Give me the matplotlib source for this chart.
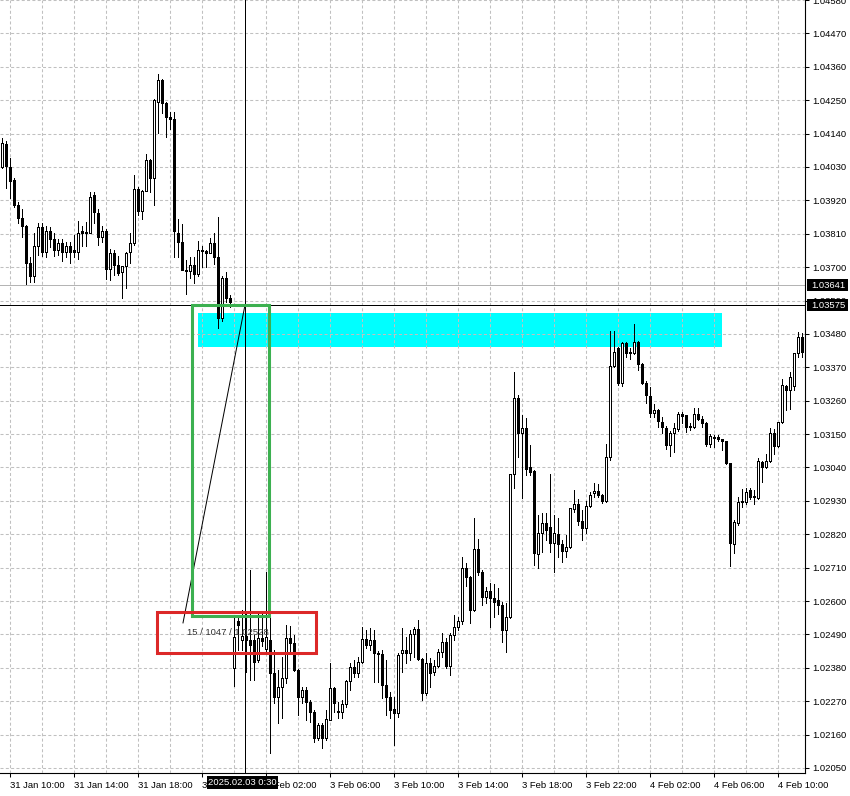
import matplotlib
matplotlib.use("Agg")
import matplotlib.pyplot as plt
from matplotlib.patches import Rectangle
import numpy as np

# 15 min bars, 31 Jan 09:30 .. 4 Feb 11:30, weekend gap removed like the terminal does
opens = [
    1.04030, 1.04107, 1.04030, 1.03986, 1.03905, 1.03862, 1.03836, 1.03714, 1.03672, 1.03771,
    1.03831, 1.03750, 1.03818, 1.03794, 1.03758, 1.03779, 1.03750, 1.03771, 1.03755, 1.03750,
    1.03818, 1.03817, 1.03813, 1.03936, 1.03878, 1.03800, 1.03818, 1.03693, 1.03748, 1.03706,
    1.03683, 1.03703, 1.03750, 1.03778, 1.03959, 1.03885, 1.03951, 1.04052, 1.03992, 1.04245,
    1.04316, 1.04241, 1.04195, 1.04189, 1.03814, 1.03783, 1.03692, 1.03688, 1.03706, 1.03679,
    1.03758, 1.03753, 1.03748, 1.03781, 1.03734, 1.03532, 1.03664, 1.03598, 1.02379, 1.02534,
    1.02472, 1.02485, 1.02472, 1.02470, 1.02406, 1.02478, 1.02442, 1.02472, 1.02363, 1.02284,
    1.02317, 1.02346, 1.02478, 1.02462, 1.02373, 1.02284, 1.02307, 1.02267, 1.02234, 1.02149,
    1.02192, 1.02149, 1.02208, 1.02313, 1.02238, 1.02234, 1.02261, 1.02337, 1.02383, 1.02363,
    1.02399, 1.02475, 1.02455, 1.02472, 1.02429, 1.02425, 1.02323, 1.02284, 1.02244, 1.02231,
    1.02429, 1.02439, 1.02429, 1.02491, 1.02508, 1.02409, 1.02297, 1.02396, 1.02366, 1.02386,
    1.02432, 1.02465, 1.02386, 1.02488, 1.02514, 1.02534, 1.02709, 1.02679, 1.02570, 1.02771,
    1.02695, 1.02613, 1.02633, 1.02610, 1.02603, 1.02587, 1.02504, 1.02547, 1.03018, 1.03268,
    1.03153, 1.03170, 1.03041, 1.03028, 1.02755, 1.02824, 1.02857, 1.02844, 1.02791, 1.02821,
    1.02788, 1.02765, 1.02778, 1.02903, 1.02919, 1.02863, 1.02840, 1.02913, 1.02956, 1.02962,
    1.02949, 1.02929, 1.03074, 1.03374, 1.03433, 1.03318, 1.03450, 1.03420, 1.03417, 1.03453,
    1.03380, 1.03318, 1.03275, 1.03219, 1.03229, 1.03190, 1.03170, 1.03114, 1.03153, 1.03167,
    1.03216, 1.03212, 1.03176, 1.03173, 1.03216, 1.03199, 1.03186, 1.03117, 1.03140, 1.03140,
    1.03134, 1.03127, 1.03054, 1.02788, 1.02857, 1.02929, 1.02926, 1.02965, 1.02945, 1.02939,
    1.03058, 1.03041, 1.03061, 1.03153, 1.03110, 1.03189, 1.03308, 1.03295, 1.03308, 1.03417,
    1.03469,
]
highs = [
    1.04124, 1.04115, 1.04061, 1.03992, 1.03915, 1.03892, 1.03840, 1.03734, 1.03813, 1.03844,
    1.03844, 1.03836, 1.03833, 1.03813, 1.03794, 1.03794, 1.03783, 1.03783, 1.03805, 1.03851,
    1.03836, 1.03848, 1.03946, 1.03946, 1.03891, 1.03836, 1.03824, 1.03759, 1.03756, 1.03736,
    1.03705, 1.03750, 1.03813, 1.04003, 1.03964, 1.03954, 1.04072, 1.04055, 1.04255, 1.04335,
    1.04319, 1.04245, 1.04211, 1.04211, 1.03857, 1.03841, 1.03725, 1.03734, 1.03734, 1.03786,
    1.03771, 1.03758, 1.03796, 1.03814, 1.03865, 1.03670, 1.03683, 1.03608, 1.02544, 1.02554,
    1.02570, 1.02564, 1.02702, 1.02488, 1.02564, 1.02564, 1.02695, 1.02560, 1.02439, 1.02373,
    1.02416, 1.02521, 1.02518, 1.02488, 1.02376, 1.02317, 1.02317, 1.02274, 1.02241, 1.02198,
    1.02198, 1.02241, 1.02396, 1.02317, 1.02267, 1.02274, 1.02340, 1.02396, 1.02406, 1.02416,
    1.02514, 1.02504, 1.02511, 1.02504, 1.02435, 1.02439, 1.02406, 1.02300, 1.02284, 1.02429,
    1.02511, 1.02481, 1.02504, 1.02514, 1.02537, 1.02412, 1.02429, 1.02412, 1.02406, 1.02442,
    1.02495, 1.02478, 1.02495, 1.02554, 1.02547, 1.02745, 1.02725, 1.02682, 1.02873, 1.02804,
    1.02702, 1.02646, 1.02659, 1.02656, 1.02643, 1.02597, 1.02593, 1.03018, 1.03354, 1.03278,
    1.03212, 1.03203, 1.03114, 1.03031, 1.02883, 1.02890, 1.02890, 1.03018, 1.02883, 1.02873,
    1.02801, 1.02817, 1.02906, 1.02965, 1.02935, 1.02900, 1.02929, 1.02959, 1.02989, 1.02986,
    1.02952, 1.03117, 1.03489, 1.03489, 1.03436, 1.03453, 1.03453, 1.03433, 1.03512, 1.03456,
    1.03383, 1.03324, 1.03305, 1.03249, 1.03232, 1.03206, 1.03176, 1.03160, 1.03186, 1.03222,
    1.03222, 1.03212, 1.03186, 1.03236, 1.03236, 1.03209, 1.03189, 1.03150, 1.03147, 1.03147,
    1.03134, 1.03127, 1.03054, 1.02867, 1.02942, 1.02969, 1.02972, 1.02972, 1.02965, 1.03071,
    1.03061, 1.03084, 1.03170, 1.03166, 1.03189, 1.03331, 1.03311, 1.03354, 1.03417, 1.03486,
    1.03483,
]
lows = [
    1.04025, 1.03961, 1.03929, 1.03898, 1.03846, 1.03800, 1.03646, 1.03651, 1.03651, 1.03739,
    1.03736, 1.03732, 1.03765, 1.03736, 1.03739, 1.03720, 1.03732, 1.03714, 1.03734, 1.03728,
    1.03770, 1.03770, 1.03812, 1.03846, 1.03772, 1.03783, 1.03660, 1.03657, 1.03673, 1.03673,
    1.03597, 1.03630, 1.03712, 1.03772, 1.03871, 1.03857, 1.03951, 1.03948, 1.03904, 1.04142,
    1.04208, 1.04129, 1.04156, 1.03734, 1.03734, 1.03690, 1.03613, 1.03663, 1.03649, 1.03670,
    1.03701, 1.03699, 1.03745, 1.03710, 1.03499, 1.03522, 1.03585, 1.03568, 1.02320, 1.02439,
    1.02439, 1.02366, 1.02340, 1.02340, 1.02399, 1.02452, 1.02432, 1.02099, 1.02264, 1.02198,
    1.02215, 1.02330, 1.02429, 1.02370, 1.02225, 1.02264, 1.02208, 1.02202, 1.02136, 1.02142,
    1.02116, 1.02142, 1.02208, 1.02234, 1.02215, 1.02215, 1.02251, 1.02307, 1.02350, 1.02350,
    1.02396, 1.02445, 1.02439, 1.02333, 1.02333, 1.02281, 1.02225, 1.02215, 1.02126, 1.02218,
    1.02366, 1.02396, 1.02406, 1.02416, 1.02406, 1.02274, 1.02290, 1.02317, 1.02356, 1.02383,
    1.02416, 1.02379, 1.02356, 1.02472, 1.02504, 1.02524, 1.02649, 1.02528, 1.02567, 1.02686,
    1.02587, 1.02593, 1.02514, 1.02547, 1.02557, 1.02465, 1.02432, 1.02544, 1.02972, 1.03074,
    1.02939, 1.03015, 1.03015, 1.02719, 1.02709, 1.02761, 1.02801, 1.02761, 1.02695, 1.02745,
    1.02728, 1.02745, 1.02775, 1.02893, 1.02850, 1.02801, 1.02824, 1.02909, 1.02942, 1.02942,
    1.02923, 1.02926, 1.03064, 1.03371, 1.03311, 1.03308, 1.03404, 1.03397, 1.03414, 1.03361,
    1.03315, 1.03252, 1.03206, 1.03206, 1.03173, 1.03153, 1.03101, 1.03077, 1.03091, 1.03160,
    1.03186, 1.03156, 1.03163, 1.03170, 1.03196, 1.03173, 1.03110, 1.03107, 1.03107, 1.03127,
    1.03097, 1.03051, 1.02715, 1.02758, 1.02850, 1.02909, 1.02919, 1.02935, 1.02919, 1.02935,
    1.02992, 1.03038, 1.03058, 1.03084, 1.03107, 1.03186, 1.03229, 1.03232, 1.03295, 1.03404,
    1.03404,
]
closes = [
    1.04109, 1.04032, 1.03984, 1.03904, 1.03862, 1.03836, 1.03714, 1.03672, 1.03771, 1.03831,
    1.03750, 1.03818, 1.03794, 1.03758, 1.03779, 1.03750, 1.03771, 1.03750, 1.03750, 1.03813,
    1.03813, 1.03813, 1.03930, 1.03882, 1.03800, 1.03818, 1.03693, 1.03748, 1.03706, 1.03681,
    1.03703, 1.03748, 1.03778, 1.03959, 1.03885, 1.03951, 1.04052, 1.03992, 1.04252, 1.04316,
    1.04241, 1.04195, 1.04189, 1.03819, 1.03783, 1.03692, 1.03688, 1.03706, 1.03679, 1.03758,
    1.03753, 1.03748, 1.03781, 1.03734, 1.03532, 1.03664, 1.03598, 1.03585, 1.02481, 1.02521,
    1.02485, 1.02472, 1.02455, 1.02399, 1.02478, 1.02468, 1.02481, 1.02363, 1.02284, 1.02317,
    1.02346, 1.02478, 1.02462, 1.02373, 1.02284, 1.02307, 1.02267, 1.02234, 1.02149, 1.02192,
    1.02149, 1.02211, 1.02313, 1.02264, 1.02234, 1.02261, 1.02337, 1.02383, 1.02363, 1.02399,
    1.02475, 1.02455, 1.02472, 1.02429, 1.02425, 1.02323, 1.02284, 1.02241, 1.02231, 1.02422,
    1.02439, 1.02429, 1.02491, 1.02508, 1.02409, 1.02297, 1.02396, 1.02363, 1.02386, 1.02432,
    1.02465, 1.02386, 1.02488, 1.02514, 1.02534, 1.02709, 1.02679, 1.02570, 1.02771, 1.02695,
    1.02613, 1.02633, 1.02610, 1.02597, 1.02587, 1.02504, 1.02547, 1.03018, 1.03268, 1.03153,
    1.03170, 1.03035, 1.03025, 1.02758, 1.02824, 1.02857, 1.02834, 1.02791, 1.02824, 1.02788,
    1.02765, 1.02778, 1.02906, 1.02919, 1.02863, 1.02840, 1.02913, 1.02949, 1.02962, 1.02949,
    1.02929, 1.03074, 1.03374, 1.03420, 1.03318, 1.03450, 1.03417, 1.03417, 1.03453, 1.03380,
    1.03318, 1.03278, 1.03219, 1.03229, 1.03193, 1.03173, 1.03114, 1.03153, 1.03170, 1.03216,
    1.03209, 1.03173, 1.03173, 1.03216, 1.03199, 1.03186, 1.03117, 1.03143, 1.03137, 1.03134,
    1.03127, 1.03054, 1.02791, 1.02860, 1.02926, 1.02926, 1.02959, 1.02942, 1.02942, 1.03061,
    1.03041, 1.03061, 1.03153, 1.03110, 1.03189, 1.03311, 1.03295, 1.03338, 1.03417, 1.03469,
    1.03420,
]

time_labels = ["31 Jan 10:00", "31 Jan 14:00", "31 Jan 18:00", "31 Jan 22:00",
               "3 Feb 02:00", "3 Feb 06:00", "3 Feb 10:00", "3 Feb 14:00",
               "3 Feb 18:00", "3 Feb 22:00", "4 Feb 02:00", "4 Feb 06:00", "4 Feb 10:00"]
time_label_bars = [2, 18, 34, 50, 66, 82, 98, 114, 130, 146, 162, 178, 194]
grid_bars = [2, 10, 18, 26, 34, 42, 50, 58, 66, 74, 82, 90, 98, 106, 114, 122, 130,
             138, 146, 154, 162, 170, 178, 186, 194]

price_labels = ["1.04580", "1.04470", "1.04360", "1.04250", "1.04140", "1.04030",
                "1.03920", "1.03810", "1.03700", "1.03590", "1.03480", "1.03370",
                "1.03260", "1.03150", "1.03040", "1.02930", "1.02820", "1.02710",
                "1.02600", "1.02490", "1.02380", "1.02270", "1.02160", "1.02050"]

# objects drawn on the chart
gray_line = 1.03641
cross_price = 1.03575
cross_bar = 60.75
cross_time = "2025.02.03 0:30"
zone_lo, zone_hi = 1.03436, 1.03548
zone_from, zone_to = 49, 180
green_lo, green_hi = 1.02551, 1.03575
green_from, green_to = 47.5, 66.75
red_lo, red_hi = 1.02429, 1.02564
red_from, red_to = 38.75, 78.5
ruler_bar, ruler_price = 45.25, 1.02528
ruler_text = "15 / 1047 / 1.02528"

fsz = 6.8
plt.rcParams["font.family"] = "Liberation Sans"

fig = plt.figure(figsize=(8.5, 7.96), dpi=100)
ax = fig.add_axes([0, 23 / 796, 805 / 850, 773 / 796])
ax.set_xlim(-0.5, 200.75)
ax.set_ylim(1.020335, 1.045793)

o = np.array(opens)
h = np.array(highs)
l = np.array(lows)
c = np.array(closes)
x = np.arange(len(o))
up = c >= o

# candles: wick first, body on top (white = bull, black = bear)
lw = 0.72
ax.vlines(x, l, h, color="black", linewidth=lw, zorder=3, antialiased=False)
lo = np.minimum(o, c)
hh = np.abs(c - o)
ax.bar(x[up], hh[up], bottom=lo[up], width=0.5, facecolor="white",
       edgecolor="black", linewidth=lw, zorder=4, antialiased=False)
ax.bar(x[~up], hh[~up], bottom=lo[~up], width=0.5, facecolor="black",
       edgecolor="black", linewidth=lw, zorder=4, antialiased=False)

# zone + boxes
ax.add_patch(Rectangle((zone_from, zone_lo), zone_to - zone_from, zone_hi - zone_lo,
                       facecolor="#00ffff", edgecolor="none", zorder=0.5))
ax.add_patch(Rectangle((green_from, green_lo), green_to - green_from, green_hi - green_lo,
                       facecolor="none", edgecolor="#3cb050", linewidth=2.2, zorder=6))
ax.add_patch(Rectangle((red_from, red_lo), red_to - red_from, red_hi - red_lo,
                       facecolor="none", edgecolor="#dc2828", linewidth=2.2, zorder=6))

# lines
ax.axhline(gray_line, color="#b4b4b4", linewidth=lw, zorder=2)
ax.axhline(cross_price, color="black", linewidth=lw, zorder=5)
ax.axvline(cross_bar, color="black", linewidth=lw, zorder=5)
ax.plot([ruler_bar, cross_bar], [ruler_price, cross_price], color="black", linewidth=lw, zorder=5)
ax.text(ruler_bar + 1, 1.02495, ruler_text, fontsize=fsz, color="#333333",
        ha="left", va="center", zorder=7)

# grid
ax.set_xticks(grid_bars, minor=True)
ax.set_xticks(time_label_bars)
ax.set_xticklabels(time_labels, ha="left")
ax.set_yticks([float(s) for s in price_labels])
ax.set_yticklabels(price_labels)
ax.grid(True, axis="x", which="both", color="#c0c0c0", linestyle=(0, (2.9, 2.2)), linewidth=0.75, zorder=1)
ax.grid(True, axis="y", which="major", color="#c0c0c0", linestyle=(0, (2.9, 2.2)), linewidth=0.75, zorder=1)
ax.set_axisbelow(False)

ax.yaxis.tick_right()
ax.tick_params(axis="y", which="major", direction="out", length=3, width=0.75, pad=2, labelsize=fsz)
ax.tick_params(axis="x", which="major", direction="out", length=3, width=0.75, pad=3, labelsize=fsz)
ax.tick_params(axis="x", which="minor", length=0)
for s in ["top", "left"]:
    ax.spines[s].set_visible(False)
for s in ["right", "bottom"]:
    ax.spines[s].set_linewidth(0.8)

# black price / time tags
ytr = ax.get_yaxis_transform()
tag_h = 0.00039
for p in [gray_line, cross_price]:
    ax.add_patch(Rectangle((1 + 2 / 805, p - tag_h / 2), 41 / 805, tag_h, transform=ytr,
                           facecolor="black", edgecolor="none", clip_on=False, zorder=10))
    ax.text(1 + 6 / 805, p, f"{p:.5f}", transform=ytr, color="white", fontsize=fsz,
            ha="left", va="center", clip_on=False, zorder=11)
xtr = ax.get_xaxis_transform()
ax.add_patch(Rectangle((51.25, -0.0207), 17.75, 0.0168, transform=xtr,
                       facecolor="black", edgecolor="none", clip_on=False, zorder=10))
ax.text(60.1, -0.0124, cross_time, transform=xtr, color="white", fontsize=fsz,
        ha="center", va="center", clip_on=False, zorder=11)

fig.savefig("out.png", dpi=100)
